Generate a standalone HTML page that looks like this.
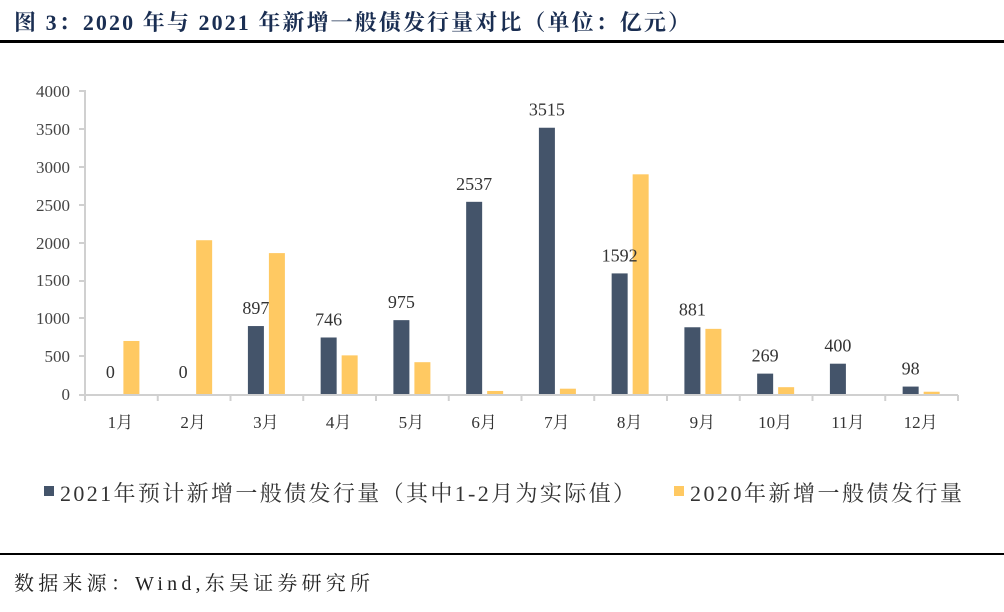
<!DOCTYPE html>
<html><head><meta charset="utf-8"><style>
body{margin:0;background:#fff;width:1004px;height:607px;overflow:hidden;font-family:"Liberation Serif","Noto Serif CJK SC",serif}
</style></head><body>
<svg width="1004" height="607" xmlns="http://www.w3.org/2000/svg" font-family="Liberation Serif, Noto Serif CJK SC, serif">
<text x="14" y="30" font-size="22" font-weight="bold" fill="#1a2e52" textLength="676" lengthAdjust="spacing">图 3：2020 年与 2021 年新增一般债发行量对比（单位：亿元）</text>
<rect x="0" y="40" width="1004" height="3" fill="#000"/>
<g font-size="17" fill="#444" text-anchor="end">
<text x="70" y="400">0</text><text x="70" y="362">500</text><text x="70" y="324">1000</text><text x="70" y="286">1500</text><text x="70" y="249">2000</text><text x="70" y="211">2500</text><text x="70" y="173">3000</text><text x="70" y="135">3500</text><text x="70" y="97">4000</text>
</g>
<g stroke="#d0d0d0" stroke-width="2">
<line x1="85" y1="90" x2="85" y2="395"/>
<line x1="79" y1="91" x2="85" y2="91"/><line x1="79" y1="129" x2="85" y2="129"/><line x1="79" y1="167" x2="85" y2="167"/><line x1="79" y1="205" x2="85" y2="205"/><line x1="79" y1="243" x2="85" y2="243"/><line x1="79" y1="281" x2="85" y2="281"/><line x1="79" y1="318" x2="85" y2="318"/><line x1="79" y1="356" x2="85" y2="356"/>
<line x1="79" y1="395" x2="958" y2="395"/>
</g>
<g id="bars"></g>
<g font-size="18" fill="#333" text-anchor="middle" id="labels"></g>
<g font-size="17" fill="#333" text-anchor="middle" id="cats"></g>
<rect x="44" y="486" width="10" height="10" fill="#44546a"/>
<text x="60" y="501" font-size="22" fill="#333" textLength="575" lengthAdjust="spacing">2021年预计新增一般债发行量（其中1-2月为实际值）</text>
<rect x="674" y="486" width="10" height="10" fill="#ffc962"/>
<text x="690" y="501" font-size="22" fill="#333" textLength="272" lengthAdjust="spacing">2020年新增一般债发行量</text>
<rect x="0" y="553" width="1004" height="2" fill="#000"/>
<text x="14" y="590" font-size="20" fill="#222" textLength="356" lengthAdjust="spacing">数据来源：Wind,东吴证券研究所</text>
<script>
var a=[0,0,897,746,975,2537,3515,1592,881,269,400,98],b=[700,2030,1860,510,420,40,70,2900,860,90,0,30];
var s=0.07575,y0=394,ns="http://www.w3.org/2000/svg";
var B=document.getElementById('bars'),L=document.getElementById('labels'),C=document.getElementById('cats'),ax=document.querySelector('g[stroke]');
function el(p,t,at,tx){var e=document.createElementNS(ns,t);for(var k in at)e.setAttribute(k,at[k]);if(tx!==undefined)e.textContent=tx;p.appendChild(e);return e;}
for(var i=0;i<12;i++){var x0=85+72.75*i,c=x0+36.4;
el(ax,'line',{x1:x0+72.75,y1:395,x2:x0+72.75,y2:401});
if(i==0)el(ax,'line',{x1:85,y1:395,x2:85,y2:401});
var h=a[i]*s;if(h>0)el(B,'rect',{x:c-19,y:y0-h,width:16,height:h,fill:'#44546a'});
var h2=b[i]*s;if(h2>0)el(B,'rect',{x:c+2,y:y0-h2,width:16,height:h2,fill:'#ffc962'});
el(L,'text',{x:c-11,y:y0-h-12+(a[i]==0?-4:0)},a[i]);
el(C,'text',{x:c-1,y:428},(i+1)+'月');}
</script>
</svg>
</body></html>
